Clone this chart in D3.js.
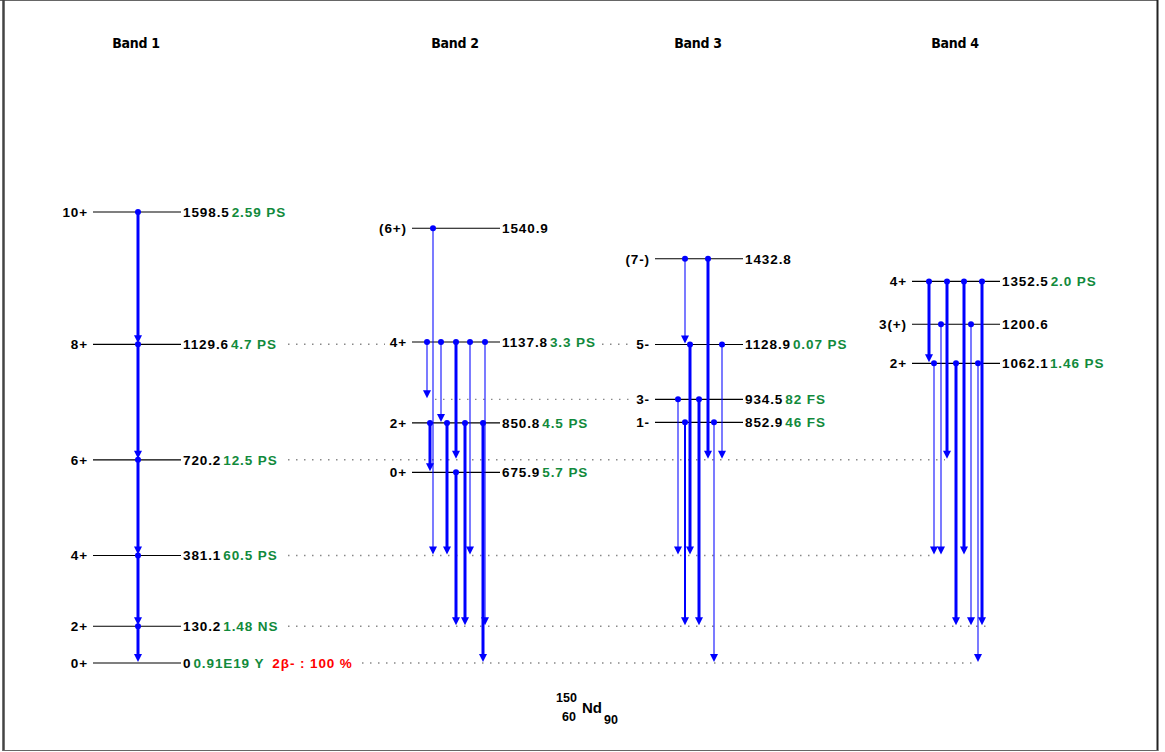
<!DOCTYPE html>
<head>
  <meta charset="utf-8">
  <script src='https://d3js.org/d3.v7.min.js'></script>
  <style>
    body {
      margin: 0;
      background: #fff;
    }
    svg text {
      font-family: "Liberation Sans", Arial, sans-serif;
      font-weight: bold;
    }
  </style>
</head>

<body>
<div id='vis'></div>

<script>
// --- data (energies in keV) ---
const bandNames = ["Band 1", "Band 2", "Band 3", "Band 4"];

const band1Energies = [0, 130.2, 381.1, 720.2, 1129.6, 1598.5];
const band1Spins = ["0+", "2+", "4+", "6+", "8+", "10+"];
const band1HalfLives = ["0.91E19 Y", "1.48 NS", "60.5 PS", "12.5 PS", "4.7 PS", "2.59 PS"];

const band2Energies = [675.9, 850.8, 1137.8, 1540.9];
const band2Spins = ["0+", "2+", "4+", "(6+)"];
const band2HalfLives = ["5.7 PS", "4.5 PS", "3.3 PS", ""];

const band3Energies = [852.9, 934.5, 1128.9, 1432.8];
const band3Spins = ["1-", "3-", "5-", "(7-)"];
const band3HalfLives = ["46 FS", "82 FS", "0.07 PS", ""];

const band4Energies = [1062.1, 1200.6, 1352.5];
const band4Spins = ["2+", "3(+)", "4+"];
const band4HalfLives = ["1.46 PS", "", "2.0 PS"];

const groundDecay = "2\u03b2- : 100 %";

// gamma transitions: [band, from keV, to keV, intensity class 1..3]
const gammas = [
  [0, 1598.5, 1129.6, 3], [0, 1129.6, 720.2, 3], [0, 720.2, 381.1, 3],
  [0, 381.1, 130.2, 3], [0, 130.2, 0, 3],
  [1, 1540.9, 381.1, 1],
  [1, 1137.8, 934.5, 1], [1, 1137.8, 850.8, 1], [1, 1137.8, 720.2, 3],
  [1, 1137.8, 381.1, 1], [1, 1137.8, 130.2, 1],
  [1, 850.8, 675.9, 3], [1, 850.8, 381.1, 3], [1, 850.8, 130.2, 3], [1, 850.8, 0, 3],
  [1, 675.9, 130.2, 3],
  [2, 1432.8, 1128.9, 1], [2, 1432.8, 720.2, 3],
  [2, 1128.9, 381.1, 3], [2, 1128.9, 720.2, 1],
  [2, 934.5, 381.1, 1], [2, 934.5, 130.2, 3],
  [2, 852.9, 130.2, 2], [2, 852.9, 0, 1],
  [3, 1352.5, 1062.1, 3], [3, 1352.5, 720.2, 3], [3, 1352.5, 381.1, 3], [3, 1352.5, 130.2, 3],
  [3, 1200.6, 381.1, 1], [3, 1200.6, 130.2, 1],
  [3, 1062.1, 381.1, 1], [3, 1062.1, 130.2, 3], [3, 1062.1, 0, 1]
];

// levels that get a dotted guide towards the feeding gammas
const guideLevels = [1129.6, 1129.6, 934.5, 720.2, 381.1, 130.2, 0];

// --- layout ---
const width = 1165, height = 752;
const bandLeft = [93, 412, 655, 912];
const levelLen = 88;
// horizontal slot of each gamma inside its band (same order as gammas)
const gammaSlot = [
  45, 45, 45, 45, 45,
  21,
  15, 29, 44, 58, 73,
  18, 35, 53, 71,
  44,
  30, 53,
  35, 67,
  23, 44,
  30, 59,
  17, 35, 52, 70,
  29, 59,
  22, 44, 66
];
const guideSpan = [[288, 385], [602, 632], [435, 632], [288, 945], [288, 936], [288, 986], [362, 976]];

const y = d3.scaleLinear().domain([0, 1598.5]).range([663, 212]);

const svg = d3.select('#vis').append('svg')
  .attr('width', width)
  .attr('height', height);

// frame
svg.append('line').attr('x1', 0).attr('x2', 1158).attr('y1', 0.5).attr('y2', 0.5)
  .attr('stroke', '#666').attr('stroke-width', 1);
svg.append('line').attr('x1', 3.5).attr('x2', 3.5).attr('y1', 0).attr('y2', 751)
  .attr('stroke', '#444').attr('stroke-width', 2.5);
svg.append('line').attr('x1', 1157.5).attr('x2', 1157.5).attr('y1', 0).attr('y2', 751)
  .attr('stroke', '#222').attr('stroke-width', 2);
svg.append('line').attr('x1', 3).attr('x2', 1158).attr('y1', 750.5).attr('y2', 750.5)
  .attr('stroke', '#666').attr('stroke-width', 1);

// dotted guides
svg.append('g').selectAll('line')
  .data(guideLevels)
  .join('line')
  .attr('x1', (d, i) => guideSpan[i][0])
  .attr('x2', (d, i) => guideSpan[i][1])
  .attr('y1', d => y(d))
  .attr('y2', d => y(d))
  .attr('stroke', '#888')
  .attr('stroke-width', 1.4)
  .attr('stroke-dasharray', '1.5,6.5');

// band titles
svg.append('g').selectAll('text')
  .data(bandNames)
  .join('text')
  .attr('x', (d, i) => bandLeft[i] + levelLen / 2 - 1)
  .attr('y', 48)
  .attr('text-anchor', 'middle')
  .style('font-family', '"Liberation Sans Narrow", "DejaVu Sans Condensed", sans-serif')
  .style('font-size', '14px')
  .style('letter-spacing', '-0.3px')
  .text(d => d);

const bands = [
  { e: band1Energies, s: band1Spins, h: band1HalfLives },
  { e: band2Energies, s: band2Spins, h: band2HalfLives },
  { e: band3Energies, s: band3Spins, h: band3HalfLives },
  { e: band4Energies, s: band4Spins, h: band4HalfLives }
];

const levels = bands.flatMap((b, bi) => b.e.map((e, i) => ({
  band: bi, energy: e, spin: b.s[i], half: b.h[i]
})));

const lg = svg.append('g');

lg.selectAll('line')
  .data(levels)
  .join('line')
  .attr('x1', d => bandLeft[d.band])
  .attr('x2', d => bandLeft[d.band] + levelLen)
  .attr('y1', d => y(d.energy))
  .attr('y2', d => y(d.energy))
  .attr('stroke', '#000')
  .attr('stroke-width', 1.2);

lg.selectAll('text.spin')
  .data(levels)
  .join('text')
  .attr('class', 'spin')
  .attr('x', d => bandLeft[d.band] - 5)
  .attr('y', d => y(d.energy) + 5)
  .attr('text-anchor', 'end')
  .style('font-size', '13.5px')
  .style('letter-spacing', '0.9px')
  .text(d => d.spin);

const eLabels = lg.selectAll('text.energy')
  .data(levels)
  .join('text')
  .attr('class', 'energy')
  .attr('x', d => bandLeft[d.band] + levelLen + 2)
  .attr('y', d => y(d.energy) + 5)
  .style('font-size', '13.5px')
  .style('letter-spacing', '0.9px');

eLabels.append('tspan')
  .attr('fill', '#000')
  .text(d => d.energy === 0 ? '0' : d.energy.toFixed(1));

eLabels.append('tspan')
  .attr('fill', '#118a3c')
  .attr('dx', 2)
  .text(d => d.half);

eLabels.filter(d => d.energy === 0)
  .append('tspan')
  .attr('fill', '#ff0000')
  .attr('dx', 8)
  .text(groundDecay);

// gamma arrows
const gg = svg.append('g');
const gw = { 1: 1.3, 2: 2, 3: 3 };

const gx = (d, i) => bandLeft[d[0]] + gammaSlot[i];

gg.selectAll('line')
  .data(gammas)
  .join('line')
  .attr('x1', gx)
  .attr('x2', gx)
  .attr('y1', d => y(d[1]))
  .attr('y2', d => y(d[2]) - 6)
  .attr('stroke', '#0000ff')
  .attr('stroke-opacity', d => d[3] === 1 ? 0.8 : 1)
  .attr('stroke-width', d => gw[d[3]]);

gg.selectAll('path')
  .data(gammas)
  .join('path')
  .attr('d', (d, i) => {
    const x = gx(d, i), t = y(d[2]) - 1;
    return `M${x - 4},${t - 8}L${x + 4},${t - 8}L${x},${t}Z`;
  })
  .attr('fill', '#0000ff');

gg.selectAll('circle')
  .data(gammas)
  .join('circle')
  .attr('cx', gx)
  .attr('cy', d => y(d[1]))
  .attr('r', 3)
  .attr('fill', '#0000ff');

// nucleus label
const nuc = svg.append('g');
nuc.append('text').attr('x', 556).attr('y', 702).style('font-size', '12.5px').text('150');
nuc.append('text').attr('x', 562).attr('y', 721).style('font-size', '12.5px').text('60');
nuc.append('text').attr('x', 582).attr('y', 713).style('font-size', '15px').text('Nd');
nuc.append('text').attr('x', 604).attr('y', 724).style('font-size', '12.5px').text('90');
</script>
</body>
